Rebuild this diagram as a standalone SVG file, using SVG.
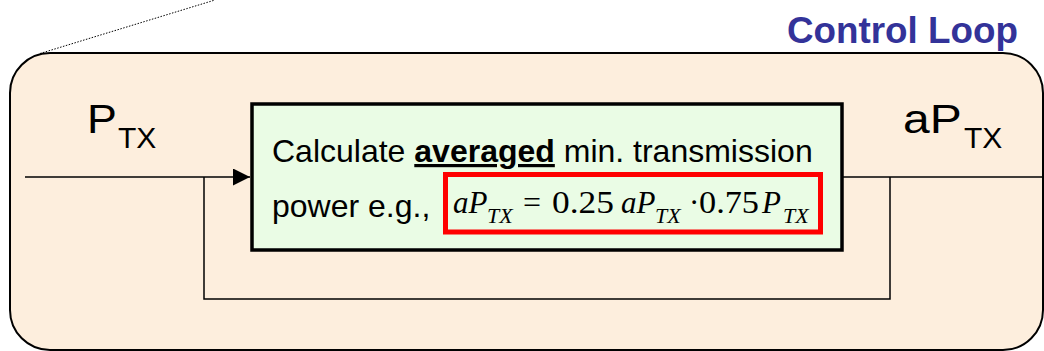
<svg xmlns="http://www.w3.org/2000/svg" width="1044" height="351" viewBox="0 0 1044 351">
<style>
.sans{font-family:"Liberation Sans",Arial,sans-serif;fill:#000}
.math{font-family:"Liberation Serif","Times New Roman",serif;font-style:italic;fill:#000}
.num{font-family:"Liberation Serif","Times New Roman",serif;fill:#000}
.wire{fill:none;stroke:#000;stroke-width:1.5}
</style>
<defs>
<marker id="arr" markerUnits="userSpaceOnUse" markerWidth="18" markerHeight="18" refX="17" refY="8.5" orient="auto">
<path d="M0,0 L17,8.5 L0,17 Z" fill="#000"/>
</marker>
</defs>
<line x1="40" y1="53.5" x2="215" y2="0" stroke="#000" stroke-width="1" stroke-dasharray="1.5,1.5"/>
<g id="control-loop">
<rect x="10" y="53" width="1033" height="297" rx="40" ry="40" fill="#FDEEDD" stroke="#000" stroke-width="2"/>
<text class="sans" x="787" y="43" font-size="36.8" font-weight="bold" style="fill:#333399">Control Loop</text>
</g>
<g id="input-label">
<text class="sans" transform="translate(87,133) scale(1.12,1)" x="0" y="0" font-size="40">P</text>
<text class="sans" x="118" y="148" font-size="30">TX</text>
</g>
<g id="output-label">
<text class="sans" transform="translate(903,133) scale(1.2,1)" x="0" y="0" font-size="40">aP</text>
<text class="sans" x="964" y="148" font-size="30">TX</text>
</g>
<g id="connectors">
<line class="wire" x1="25" y1="177" x2="250" y2="177" marker-end="url(#arr)"/>
<line class="wire" x1="842" y1="177" x2="1043" y2="177"/>
<polyline class="wire" points="890,177 890,299 204,299 204,177"/>
</g>
<g id="calc-box">
<rect x="252" y="104" width="590" height="146" fill="#EAFCE5" stroke="#000" stroke-width="3.5"/>
<text class="sans" x="272" y="162" font-size="32">Calculate <tspan font-weight="bold" text-decoration="underline">averaged</tspan> min. transmission</text>
<text class="sans" x="272" y="217" font-size="32">power e.g.,</text>
<rect x="445.5" y="174.5" width="375" height="57.5" fill="none" stroke="#FF0000" stroke-width="5"/>
<text class="math" x="453" y="213" font-size="31">aP</text>
<text class="math" x="487" y="223" font-size="22">TX</text>
<text class="num" x="523" y="213" font-size="31" textLength="18" lengthAdjust="spacingAndGlyphs">=</text>
<text class="num" x="552" y="213" font-size="31" textLength="62" lengthAdjust="spacingAndGlyphs">0.25</text>
<text class="math" x="621" y="213" font-size="31">aP</text>
<text class="math" x="655" y="223" font-size="22">TX</text>
<text class="num" x="689" y="213" font-size="31">·</text>
<text class="num" x="699" y="213" font-size="31" textLength="60" lengthAdjust="spacingAndGlyphs">0.75</text>
<text class="math" x="762" y="213" font-size="31">P</text>
<text class="math" x="783" y="223" font-size="22">TX</text>
</g>
</svg>
